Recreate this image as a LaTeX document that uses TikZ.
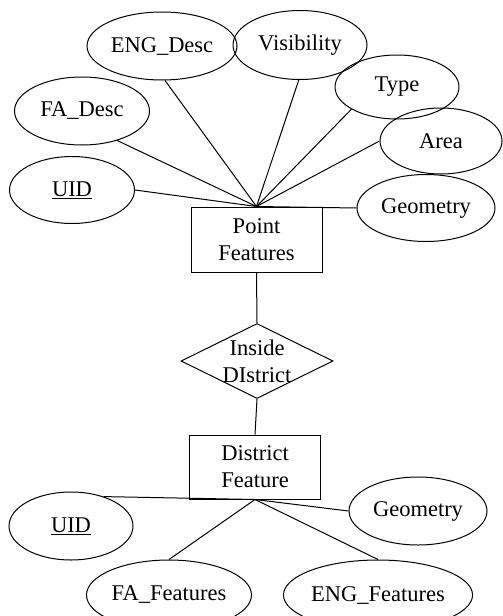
\documentclass[tikz,border=0pt]{standalone}
\usepackage{fontspec}
\setmainfont{Liberation Serif}
\usetikzlibrary{shapes.geometric}
\begin{document}
\begin{tikzpicture}[x=1pt,y=-1pt,
  attr/.style={ellipse,draw,line width=1pt,inner sep=0pt},
  ent/.style={rectangle,draw,line width=1pt,minimum width=131pt,minimum height=65pt,align=center,inner sep=0pt},
  rel/.style={diamond,draw,line width=1pt,minimum width=152pt,minimum height=75pt,inner sep=0pt},
  conn/.style={line width=1pt},
  font=\fontsize{22.5}{27}\selectfont]
\useasboundingbox (0,0) rectangle (503,616);
\fill[white] (0,0) rectangle (503,616);
\clip (0,0) rectangle (503,616);
% top entity and attributes
\node[ent] (pf) at (256.5,239.5) {Point\\Features};
\node[attr,minimum width=150pt,minimum height=68pt] (engd) at (162,46) {ENG\_Desc};
\node[attr,minimum width=134pt,minimum height=69pt] (vis) at (300,45) {Visibility};
\node[attr,minimum width=124pt,minimum height=64pt] (type) at (397,87) {Type};
\node[attr,minimum width=135pt,minimum height=68pt] (fad) at (82,111) {FA\_Desc};
\node[attr,minimum width=122pt,minimum height=66pt] (area) at (441,141) {Area};
\node[attr,minimum width=125pt,minimum height=67pt] (uid1) at (72,190) {\underline{UID}};
\node[attr,minimum width=138pt,minimum height=67pt] (geo1) at (426,208) {Geometry};
% relationship
\node[rel,label={[align=center,font=\fontsize{22.5}{27}\selectfont]center:Inside\\DIstrict}] (ins) at (257,361) {};
% bottom entity and attributes
\node[ent,minimum height=64pt] (df) at (255,467) {District\\Feature};
\node[attr,minimum width=124pt,minimum height=68pt] (uid2) at (71,526) {\underline{UID}};
\node[attr,minimum width=138pt,minimum height=68pt] (geo2) at (418,511) {Geometry};
\node[attr,minimum width=165pt,minimum height=70pt] (faf) at (169,595) {FA\_Features};
\node[attr,minimum width=184pt,minimum height=70pt] (engf) at (378,595) {ENG\_Features};
% connectors
\draw[conn] (pf.north) -- (engd.-85);
\draw[conn] (pf.north) -- (vis.-92);
\draw[conn] (pf.north) -- (type.206);
\draw[conn] (pf.north) -- (fad.-40);
\draw[conn] (pf.north) -- (area.180);
\draw[conn] (pf.north) -- (uid1.east);
\draw[conn] (pf.north) -- (geo1.west);
\draw[conn] (pf.south) -- (ins.north);
\draw[conn] (ins.south) -- (df.north);
\draw[conn] (df.south) -- (uid2.42);
\draw[conn] (df.south) -- (geo2.west);
\draw[conn] (df.south) -- (faf.north);
\draw[conn] (df.south) -- (engf.north);
\end{tikzpicture}
\end{document}
